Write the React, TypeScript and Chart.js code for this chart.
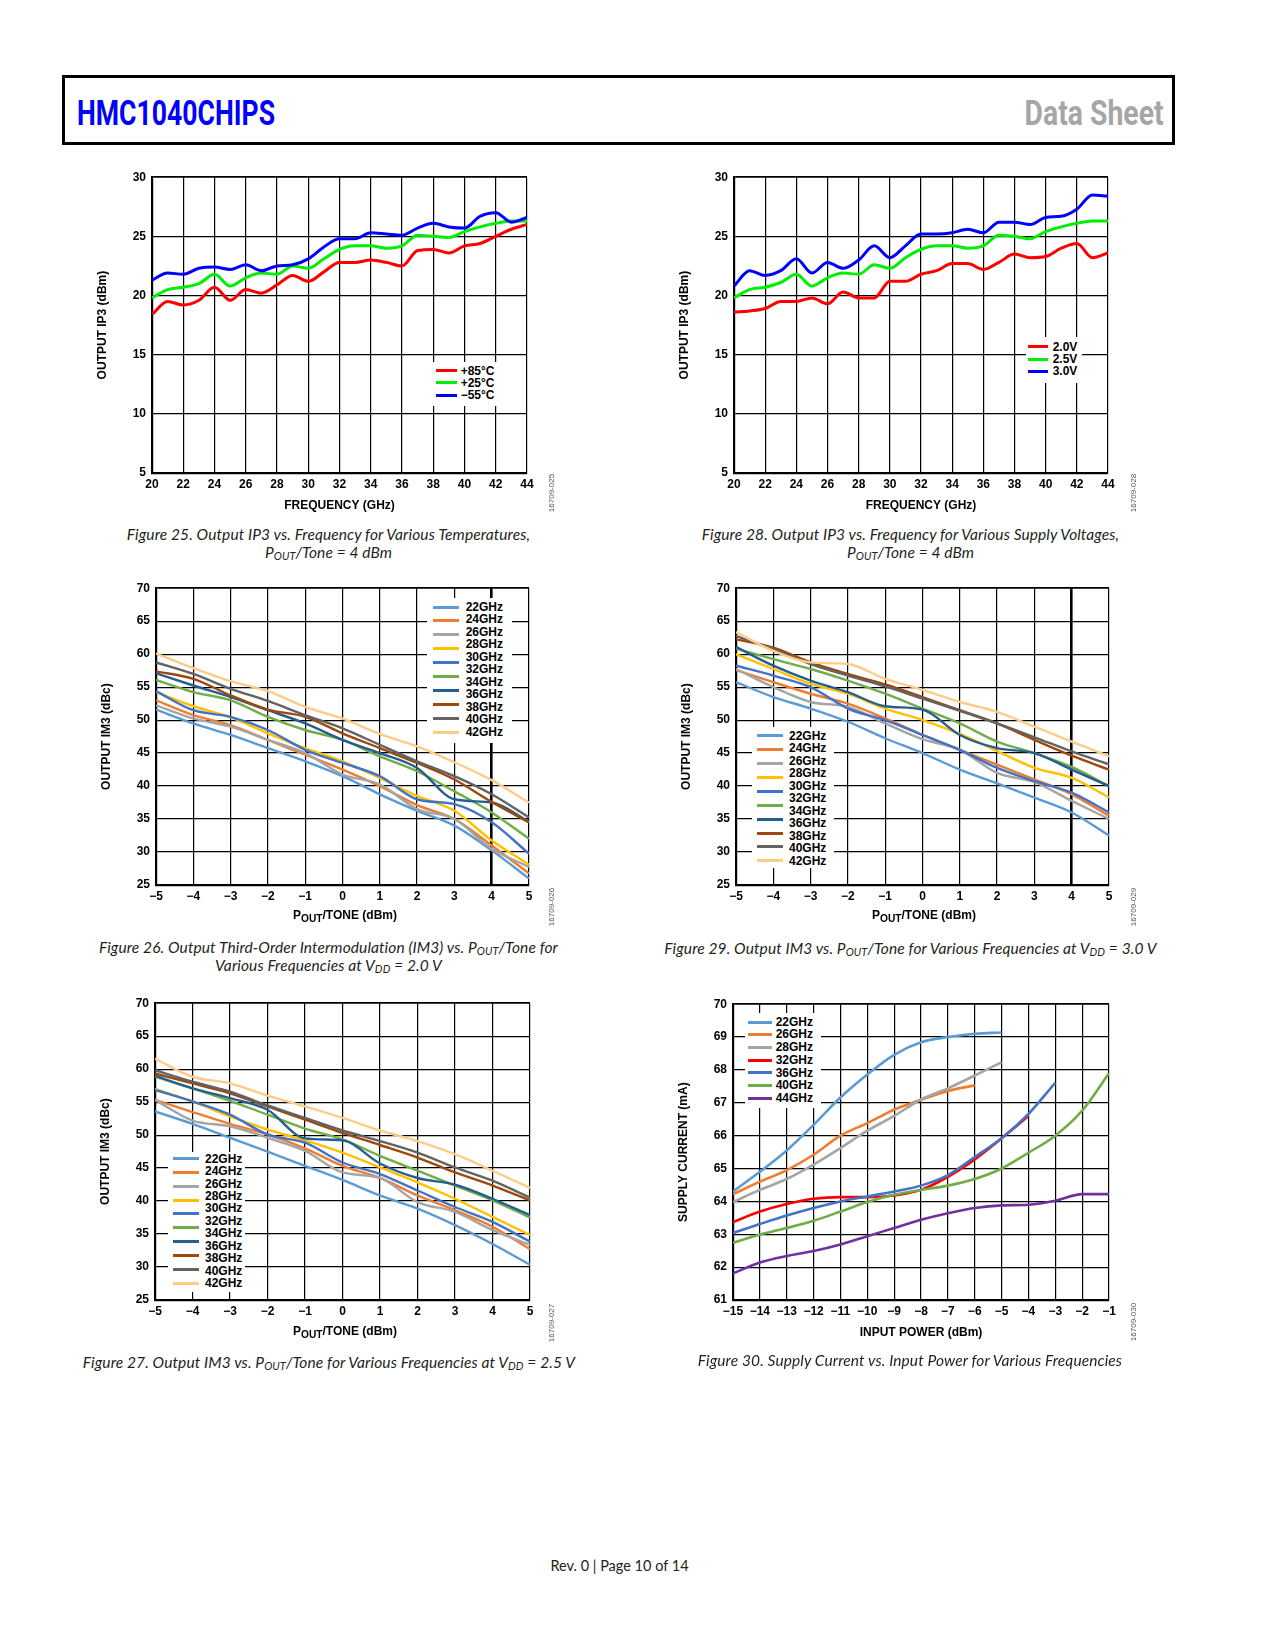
import React, { useEffect, useRef } from "react";
import { Chart, registerables } from "chart.js";

Chart.register(...registerables);

const FONT = "'Liberation Sans', Arial, Helvetica, sans-serif";
const CAPTION_FONT = "Lato, 'Open Sans', sans-serif";

// ---------------- Figure 25: Output IP3 vs frequency, temperatures ----------------
const freqGHz = [20, 21, 22, 23, 24, 25, 26, 27, 28, 29, 30, 31, 32, 33, 34, 35, 36, 37, 38, 39, 40, 41, 42, 43, 44];
const ip3Plus85C = [18.4, 19.5, 19.2, 19.6, 20.7, 19.6, 20.5, 20.2, 20.9, 21.7, 21.2, 22.0, 22.8, 22.8, 23.0, 22.8, 22.5, 23.8, 23.9, 23.6, 24.2, 24.4, 25.0, 25.6, 26.0];
const ip3Plus25C = [19.8, 20.5, 20.7, 21.0, 21.8, 20.8, 21.5, 21.9, 21.8, 22.5, 22.3, 23.1, 23.9, 24.2, 24.2, 24.0, 24.2, 25.1, 25.0, 24.9, 25.4, 25.8, 26.1, 26.3, 26.3];
const ip3Minus55C = [21.3, 21.9, 21.8, 22.3, 22.4, 22.2, 22.6, 22.1, 22.5, 22.6, 23.1, 24.1, 24.8, 24.8, 25.3, 25.2, 25.1, 25.7, 26.1, 25.8, 25.7, 26.7, 27.0, 26.2, 26.6];
const tempLabels = ["+85\u00b0C", "+25\u00b0C", "\u221255\u00b0C"];

// ---------------- Figure 28: Output IP3 vs frequency, supply voltages ----------------
const ip3Vdd20 = [18.6, 18.7, 18.9, 19.5, 19.5, 19.8, 19.3, 20.3, 19.8, 19.8, 21.2, 21.2, 21.8, 22.1, 22.7, 22.7, 22.2, 22.8, 23.5, 23.2, 23.3, 24.0, 24.4, 23.2, 23.6];
const ip3Vdd25 = [19.8, 20.5, 20.7, 21.1, 21.8, 20.8, 21.5, 21.9, 21.8, 22.6, 22.3, 23.2, 23.9, 24.2, 24.2, 24.0, 24.2, 25.1, 25.0, 24.8, 25.4, 25.8, 26.1, 26.3, 26.3];
const ip3Vdd30 = [20.8, 22.1, 21.7, 22.1, 23.1, 21.9, 22.8, 22.3, 23.0, 24.2, 23.2, 24.2, 25.2, 25.2, 25.3, 25.6, 25.3, 26.2, 26.2, 26.0, 26.6, 26.7, 27.3, 28.5, 28.4];
const vddLabels = ["2.0V", "2.5V", "3.0V"];

// ---------------- IM3 figures (26, 27, 29) ----------------
const poutTone = [-5, -4, -3, -2, -1, 0, 1, 2, 3, 4, 5];
const im3LegendLabels = ["22GHz", "24GHz", "26GHz", "28GHz", "30GHz", "32GHz", "34GHz", "36GHz", "38GHz", "40GHz", "42GHz"];
const im3PlottedFreqs = ["22GHz", "24GHz", "26GHz", "28GHz", "30GHz", "34GHz", "36GHz", "38GHz", "40GHz", "42GHz"];

// Figure 26: VDD = 2.0 V
const im3Vdd20_22 = [51.6, 49.5, 47.75, 45.75, 43.75, 41.5, 38.75, 36.25, 34.0, 30.25, 26.0];
const im3Vdd20_24 = [53.0, 50.75, 49.25, 47.0, 44.75, 42.5, 40.0, 37.1, 35.0, 31.0, 26.75];
const im3Vdd20_26 = [52.25, 50.25, 49.0, 47.0, 45.0, 41.75, 40.25, 36.5, 35.0, 30.5, 27.75];
const im3Vdd20_28 = [54.25, 52.1, 50.4, 48.0, 45.75, 43.75, 41.25, 38.5, 36.25, 31.75, 28.1];
const im3Vdd20_30 = [54.4, 51.5, 50.5, 48.5, 45.5, 43.5, 41.5, 38.0, 37.25, 34.5, 29.75];
const im3Vdd20_34 = [56.1, 54.25, 53.0, 50.5, 48.5, 47.0, 44.5, 42.25, 39.2, 36.0, 32.0];
const im3Vdd20_36 = [57.1, 55.25, 53.5, 51.5, 49.5, 47.0, 45.0, 42.75, 38.0, 37.5, 34.6];
const im3Vdd20_38 = [57.4, 56.25, 53.75, 51.6, 50.5, 48.0, 45.75, 43.5, 41.0, 37.6, 34.5];
const im3Vdd20_40 = [58.75, 57.0, 54.75, 52.9, 50.75, 48.75, 46.25, 43.75, 41.5, 38.75, 35.25];
const im3Vdd20_42 = [60.1, 57.9, 55.9, 54.4, 52.0, 50.25, 47.9, 46.0, 43.6, 40.9, 37.5];

// Figure 29: VDD = 3.0 V
const im3Vdd30_22 = [55.75, 53.5, 51.75, 49.75, 47.25, 45.0, 42.5, 40.4, 38.25, 36.0, 32.5];
const im3Vdd30_24 = [57.6, 55.75, 54.0, 52.5, 50.25, 47.75, 45.5, 43.25, 41.0, 38.75, 35.5];
const im3Vdd30_26 = [57.75, 55.0, 52.75, 52.0, 49.5, 47.1, 45.5, 42.0, 40.6, 37.75, 35.0];
const im3Vdd30_28 = [60.0, 57.75, 55.5, 54.0, 51.75, 50.0, 47.9, 45.3, 42.75, 41.25, 38.3];
const im3Vdd30_30 = [58.25, 56.75, 55.0, 51.75, 50.0, 47.75, 45.5, 42.75, 40.75, 39.0, 36.0];
const im3Vdd30_34 = [60.85, 59.25, 57.75, 56.0, 54.0, 51.75, 49.5, 46.75, 45.0, 42.9, 40.0];
const im3Vdd30_36 = [61.1, 58.25, 56.0, 54.25, 52.1, 51.6, 47.75, 45.75, 45.0, 42.5, 40.0];
const im3Vdd30_38 = [62.25, 61.0, 58.75, 57.0, 55.4, 53.5, 51.5, 49.5, 47.0, 44.6, 42.5];
const im3Vdd30_40 = [62.75, 60.75, 58.5, 56.75, 55.1, 53.25, 51.4, 49.5, 47.4, 45.25, 43.3];
const im3Vdd30_42 = [63.35, 60.5, 58.75, 58.5, 56.25, 54.6, 52.75, 51.25, 49.0, 46.75, 44.5];

// Figure 27: VDD = 2.5 V
const im3Vdd25_22 = [53.6, 51.7, 49.6, 47.5, 45.35, 43.2, 40.85, 38.85, 36.35, 33.5, 30.35];
const im3Vdd25_24 = [55.35, 53.5, 51.7, 50.1, 48.0, 45.35, 43.5, 40.85, 38.6, 36.1, 32.7];
const im3Vdd25_26 = [55.35, 52.2, 51.35, 49.6, 47.6, 44.35, 43.5, 39.85, 38.35, 35.6, 33.35];
const im3Vdd25_28 = [57.0, 55.1, 52.85, 50.85, 49.2, 47.35, 45.1, 42.85, 40.35, 37.6, 34.85];
const im3Vdd25_30 = [56.85, 55.1, 53.1, 50.1, 48.85, 45.85, 44.1, 41.6, 39.1, 36.85, 33.85];
const im3Vdd25_34 = [58.85, 57.1, 55.2, 53.1, 51.0, 49.35, 46.85, 44.6, 42.35, 40.1, 37.5];
const im3Vdd25_36 = [59.0, 57.1, 55.6, 53.85, 49.5, 49.2, 45.7, 43.5, 42.5, 40.35, 37.85];
const im3Vdd25_38 = [59.35, 57.85, 56.35, 54.35, 52.35, 50.35, 48.5, 46.6, 44.35, 42.35, 40.1];
const im3Vdd25_40 = [59.85, 58.1, 56.6, 54.5, 52.6, 50.7, 49.1, 47.35, 45.1, 43.1, 40.5];
const im3Vdd25_42 = [61.6, 58.85, 57.85, 56.0, 54.35, 52.6, 50.7, 49.1, 47.1, 44.6, 42.0];

// ---------------- Figure 30: Supply current vs input power ----------------
const inputPowerTo5 = [-15, -14, -13, -12, -11, -10, -9, -8, -7, -6, -5];
const inputPowerTo6 = [-15, -14, -13, -12, -11, -10, -9, -8, -7, -6];
const inputPowerTo4 = [-15, -14, -13, -12, -11, -10, -9, -8, -7, -6, -5, -4];
const inputPowerTo3 = [-15, -14, -13, -12, -11, -10, -9, -8, -7, -6, -5, -4, -3];
const inputPowerTo1 = [-15, -14, -13, -12, -11, -10, -9, -8, -7, -6, -5, -4, -3, -2, -1];
const supply22GHz = [64.3, 64.9, 65.55, 66.33, 67.16, 67.86, 68.46, 68.84, 69.0, 69.1, 69.14];
const supply26GHz = [64.22, 64.6, 64.95, 65.42, 66.0, 66.38, 66.79, 67.09, 67.36, 67.53];
const supply28GHz = [63.98, 64.35, 64.68, 65.12, 65.62, 66.15, 66.6, 67.1, 67.44, 67.83, 68.24];
const supply32GHz = [63.37, 63.69, 63.92, 64.08, 64.13, 64.13, 64.18, 64.35, 64.75, 65.28, 65.92, 66.6];
const supply36GHz = [63.04, 63.31, 63.57, 63.8, 64.0, 64.15, 64.3, 64.48, 64.8, 65.35, 65.92, 66.66, 67.61];
const supply40GHz = [62.74, 62.99, 63.19, 63.41, 63.69, 63.98, 64.2, 64.35, 64.48, 64.68, 65.0, 65.48, 66.0, 66.76, 67.9];
const supply44GHz = [61.81, 62.14, 62.34, 62.49, 62.69, 62.94, 63.19, 63.44, 63.64, 63.8, 63.88, 63.9, 64.02, 64.22, 64.22];
const supplyLabels = ["22GHz", "26GHz", "28GHz", "32GHz", "36GHz", "40GHz", "44GHz"];

// ---------------- styles ----------------
const IM3_COLORS: Record<string, string> = {
  "22GHz": "#5B9BD5",
  "24GHz": "#ED7D31",
  "26GHz": "#A5A5A5",
  "28GHz": "#FFC000",
  "30GHz": "#4472C4",
  "34GHz": "#70AD47",
  "36GHz": "#255E91",
  "38GHz": "#9E480E",
  "40GHz": "#636363",
  "42GHz": "#FFCC88",
};
const SUPPLY_COLORS = ["#5B9BD5", "#ED7D31", "#A5A5A5", "#FF0000", "#4472C4", "#70AD47", "#7030A0"];
const RGB = ["#FF0000", "#00EE00", "#0000FF"];

type SeriesDef = { label: string; xs: number[]; ys: number[]; color: string; width: number };
type Box = { l: number; t: number; r: number; b: number };

const PAD_L = 70;
const PAD_T = 10;
const PAD_R = 22;
const PAD_B = 50;

function fmtTick(v: number | string) {
  const n = Number(v);
  return n < 0 ? "\u2212" + Math.abs(n) : String(n);
}

function LineChart(props: {
  box: Box;
  xMin: number;
  xMax: number;
  xStep: number;
  yMin: number;
  yMax: number;
  yStep: number;
  series: SeriesDef[];
  yTitle: string;
  xTitle?: string;
  thickX?: number;
}) {
  const { box, xMin, xMax, xStep, yMin, yMax, yStep, series, yTitle, xTitle, thickX } = props;
  const ref = useRef<HTMLCanvasElement | null>(null);
  const W = box.r - box.l + PAD_L + PAD_R;
  const H = box.b - box.t + PAD_T + PAD_B;
  useEffect(() => {
    if (!ref.current) return;
    const font = { family: FONT, size: 12, weight: "bold" as const };
    const n = series.length;
    const chart = new Chart(ref.current, {
      type: "line",
      data: {
        datasets: series.map((s, i) => ({
          label: s.label,
          data: s.xs.map((x, k) => ({ x, y: s.ys[k] })),
          borderColor: s.color,
          backgroundColor: s.color,
          borderWidth: s.width,
          pointRadius: 0,
          pointHoverRadius: 0,
          fill: false,
          cubicInterpolationMode: "monotone" as const,
          order: n - i,
        })),
      },
      options: {
        animation: false,
        responsive: false,
        maintainAspectRatio: false,
        events: [],
        layout: { padding: { left: 0, top: PAD_T, right: PAD_R, bottom: 0 } },
        plugins: { legend: { display: false }, tooltip: { enabled: false }, title: { display: false } },
        scales: {
          x: {
            type: "linear",
            min: xMin,
            max: xMax,
            ticks: {
              stepSize: xStep,
              autoSkip: false,
              maxRotation: 0,
              minRotation: 0,
              padding: 4.5,
              color: "#000",
              font,
              callback: (v: any) => fmtTick(v),
            },
            grid: {
              color: "#000",
              drawTicks: false,
              lineWidth: (c: any) => (thickX !== undefined && c.tick && c.tick.value === thickX ? 2.6 : 1.2),
            },
            border: { display: true, color: "#000", width: 2.2 },
            title: {
              display: !!xTitle,
              text: xTitle || "",
              color: "#000",
              font,
              padding: { top: 0, bottom: 10.3 },
            },
            afterFit: (s: any) => {
              s.height = PAD_B;
            },
          },
          y: {
            type: "linear",
            min: yMin,
            max: yMax,
            ticks: {
              stepSize: yStep,
              autoSkip: false,
              padding: 6,
              color: "#000",
              font,
              callback: (v: any) => fmtTick(v),
            },
            grid: {
              color: "#000",
              drawTicks: false,
              lineWidth: (c: any) => (c.tick && c.tick.value === yMax ? 1.8 : 1.2),
            },
            border: { display: true, color: "#000", width: 2.2 },
            title: {
              display: true,
              text: yTitle,
              color: "#000",
              font,
              padding: { top: 13.3, bottom: 0 },
            },
            afterFit: (s: any) => {
              s.width = PAD_L;
            },
          },
        },
      },
    });
    return () => chart.destroy();
  }, []);
  return (
    <canvas
      ref={ref}
      width={W}
      height={H}
      style={{ position: "absolute", left: box.l - PAD_L, top: box.t - PAD_T, width: W, height: H }}
    />
  );
}

type LegendCfg = {
  boxL: number;
  boxT: number;
  boxR: number;
  boxB: number;
  lineX1: number;
  lineX2: number;
  labelX: number;
  labelY0: number;
  labelDy: number;
  lineY0: number;
  lineDy: number;
  lineW: number;
};

function Legend({ cfg, labels, colors }: { cfg: LegendCfg; labels: string[]; colors: string[] }) {
  return (
    <>
      <div
        style={{
          position: "absolute",
          left: cfg.boxL,
          top: cfg.boxT,
          width: cfg.boxR - cfg.boxL,
          height: cfg.boxB - cfg.boxT,
          background: "#fff",
        }}
      />
      {colors.map((c, i) => (
        <div
          key={"l" + i}
          style={{
            position: "absolute",
            left: cfg.lineX1,
            width: cfg.lineX2 - cfg.lineX1,
            top: cfg.lineY0 + i * cfg.lineDy - cfg.lineW / 2,
            height: cfg.lineW,
            background: c,
          }}
        />
      ))}
      {labels.map((t, i) => (
        <div
          key={"t" + i}
          style={{
            position: "absolute",
            left: cfg.labelX,
            top: cfg.labelY0 + i * cfg.labelDy - 7,
            height: 14,
            lineHeight: "14px",
            font: `bold 12px ${FONT}`,
            color: "#000",
            whiteSpace: "nowrap",
          }}
        >
          {t}
        </div>
      ))}
    </>
  );
}

const Sub = ({ children, size = "0.7em", shift = "-0.22em" }: { children: React.ReactNode; size?: string; shift?: string }) => (
  <span style={{ fontSize: size, verticalAlign: shift, lineHeight: 0 }}>{children}</span>
);

function Caption({ cx, y, lines }: { cx: number; y: number; lines: React.ReactNode[] }) {
  return (
    <div
      style={{
        position: "absolute",
        left: cx - 330,
        width: 660,
        top: y - 9.5,
        textAlign: "center",
        fontFamily: CAPTION_FONT,
        fontStyle: "italic",
        fontSize: 15.5,
        letterSpacing: "0.1px",
        lineHeight: "18.5px",
        color: "#231f20",
        whiteSpace: "nowrap",
      }}
    >
      {lines.map((ln, i) => (
        <div key={i}>{ln}</div>
      ))}
    </div>
  );
}

function PoutTitle({ cx, cy }: { cx: number; cy: number }) {
  return (
    <div
      style={{
        position: "absolute",
        left: cx - 100,
        width: 200,
        top: cy - 8,
        height: 16,
        lineHeight: "16px",
        textAlign: "center",
        font: `bold 12px ${FONT}`,
        color: "#000",
        whiteSpace: "nowrap",
      }}
    >
      P<Sub size="0.85em" shift="-0.3em">OUT</Sub>/TONE (dBm)
    </div>
  );
}

function CodeLabel({ cx, cy, text }: { cx: number; cy: number; text: string }) {
  return (
    <div
      style={{
        position: "absolute",
        left: cx - 30,
        top: cy - 5,
        width: 60,
        height: 10,
        lineHeight: "10px",
        textAlign: "center",
        font: `8px ${FONT}`,
        color: "#555",
        transform: "rotate(-90deg)",
        whiteSpace: "nowrap",
      }}
    >
      {text}
    </div>
  );
}

const box25: Box = { l: 152, t: 174, r: 527, b: 473 };
const box28: Box = { l: 734, t: 174, r: 1108, b: 473 };
const box26: Box = { l: 156, t: 585, r: 529, b: 885 };
const box29: Box = { l: 736, t: 585, r: 1109, b: 885 };
const box27: Box = { l: 155, t: 1000, r: 530, b: 1300 };
const box30: Box = { l: 733, t: 1001, r: 1109, b: 1300 };

function im3Series(values: number[][]): SeriesDef[] {
  return im3PlottedFreqs.map((f, i) => ({ label: f, xs: poutTone, ys: values[i], color: IM3_COLORS[f], width: 2.4 }));
}

export default function App() {
  const s25: SeriesDef[] = [
    { label: tempLabels[0], xs: freqGHz, ys: ip3Plus85C, color: RGB[0], width: 3 },
    { label: tempLabels[1], xs: freqGHz, ys: ip3Plus25C, color: RGB[1], width: 3 },
    { label: tempLabels[2], xs: freqGHz, ys: ip3Minus55C, color: RGB[2], width: 3 },
  ];
  const s28: SeriesDef[] = [
    { label: vddLabels[0], xs: freqGHz, ys: ip3Vdd20, color: RGB[0], width: 3 },
    { label: vddLabels[1], xs: freqGHz, ys: ip3Vdd25, color: RGB[1], width: 3 },
    { label: vddLabels[2], xs: freqGHz, ys: ip3Vdd30, color: RGB[2], width: 3 },
  ];
  const s26 = im3Series([im3Vdd20_22, im3Vdd20_24, im3Vdd20_26, im3Vdd20_28, im3Vdd20_30, im3Vdd20_34, im3Vdd20_36, im3Vdd20_38, im3Vdd20_40, im3Vdd20_42]);
  const s29 = im3Series([im3Vdd30_22, im3Vdd30_24, im3Vdd30_26, im3Vdd30_28, im3Vdd30_30, im3Vdd30_34, im3Vdd30_36, im3Vdd30_38, im3Vdd30_40, im3Vdd30_42]);
  const s27 = im3Series([im3Vdd25_22, im3Vdd25_24, im3Vdd25_26, im3Vdd25_28, im3Vdd25_30, im3Vdd25_34, im3Vdd25_36, im3Vdd25_38, im3Vdd25_40, im3Vdd25_42]);
  const supplyXs = [inputPowerTo5, inputPowerTo6, inputPowerTo5, inputPowerTo4, inputPowerTo3, inputPowerTo1, inputPowerTo1];
  const supplyYs = [supply22GHz, supply26GHz, supply28GHz, supply32GHz, supply36GHz, supply40GHz, supply44GHz];
  const s30: SeriesDef[] = supplyLabels.map((l, i) => ({ label: l, xs: supplyXs[i], ys: supplyYs[i], color: SUPPLY_COLORS[i], width: 2.6 }));

  const im3LineColors = im3PlottedFreqs.map((f) => IM3_COLORS[f]);

  return (
    <div
      style={{
        position: "absolute",
        left: 0,
        top: 0,
        width: 1275,
        height: 1650,
        background: "#fff",
        overflow: "hidden",
      }}
    >
      {/* Header */}
      <div
        style={{
          position: "absolute",
          left: 62,
          top: 75,
          width: 1113,
          height: 70,
          border: "3px solid #000",
          boxSizing: "border-box",
        }}
      />
      <div
        style={{
          position: "absolute",
          left: 77,
          top: 93,
          height: 35,
          lineHeight: "35px",
          font: "bold 35px Roboto, sans-serif",
          color: "#0000FF",
          transform: "scaleX(0.76)",
          transformOrigin: "left center",
          whiteSpace: "nowrap",
        }}
      >
        HMC1040CHIPS
      </div>
      <div
        style={{
          position: "absolute",
          right: 1275 - 1164,
          top: 93,
          height: 35,
          lineHeight: "35px",
          font: "bold 35px Roboto, sans-serif",
          color: "#A6A6A6",
          transform: "scaleX(0.81)",
          transformOrigin: "right center",
          whiteSpace: "nowrap",
        }}
      >
        Data Sheet
      </div>

      {/* Figure 25 */}
      <LineChart box={box25} xMin={20} xMax={44} xStep={2} yMin={5} yMax={30} yStep={5} series={s25} yTitle="OUTPUT IP3 (dBm)" xTitle="FREQUENCY (GHz)" />
      <Legend
        cfg={{ boxL: 433, boxT: 362, boxR: 497, boxB: 406, lineX1: 436, lineX2: 457, labelX: 460.7, labelY0: 370.7, labelDy: 12.15, lineY0: 370.7, lineDy: 12.15, lineW: 3 }}
        labels={tempLabels}
        colors={RGB}
      />
      <CodeLabel cx={552} cy={493} text="16709-025" />
      <Caption
        cx={328.5}
        y={534}
        lines={[
          "Figure 25. Output IP3 vs. Frequency for Various Temperatures,",
          <>
            P<Sub>OUT</Sub>/Tone = 4 dBm
          </>,
        ]}
      />

      {/* Figure 28 */}
      <LineChart box={box28} xMin={20} xMax={44} xStep={2} yMin={5} yMax={30} yStep={5} series={s28} yTitle="OUTPUT IP3 (dBm)" xTitle="FREQUENCY (GHz)" />
      <Legend
        cfg={{ boxL: 1026, boxT: 337, boxR: 1082, boxB: 383, lineX1: 1028, lineX2: 1048, labelX: 1052.7, labelY0: 346.7, labelDy: 12.3, lineY0: 346.7, lineDy: 12.3, lineW: 3 }}
        labels={vddLabels}
        colors={RGB}
      />
      <CodeLabel cx={1134} cy={493} text="16709-028" />
      <Caption
        cx={910.5}
        y={534}
        lines={[
          "Figure 28. Output IP3 vs. Frequency for Various Supply Voltages,",
          <>
            P<Sub>OUT</Sub>/Tone = 4 dBm
          </>,
        ]}
      />

      {/* Figure 26 */}
      <LineChart box={box26} xMin={-5} xMax={5} xStep={1} yMin={25} yMax={70} yStep={5} series={s26} yTitle="OUTPUT IM3 (dBc)" thickX={4} />
      <Legend
        cfg={{ boxL: 427, boxT: 598, boxR: 512, boxB: 743, lineX1: 432.7, lineX2: 459.3, labelX: 465.7, labelY0: 606.7, labelDy: 12.5, lineY0: 607, lineDy: 13.92, lineW: 3 }}
        labels={im3LegendLabels}
        colors={im3LineColors}
      />
      <PoutTitle cx={345} cy={916} />
      <CodeLabel cx={552} cy={907} text="16709-026" />
      <Caption
        cx={328.5}
        y={947}
        lines={[
          <>
            Figure 26. Output Third-Order Intermodulation (IM3) vs. P<Sub>OUT</Sub>/Tone for
          </>,
          <>
            Various Frequencies at V<Sub>DD</Sub> = 2.0 V
          </>,
        ]}
      />

      {/* Figure 29 */}
      <LineChart box={box29} xMin={-5} xMax={5} xStep={1} yMin={25} yMax={70} yStep={5} series={s29} yTitle="OUTPUT IM3 (dBc)" thickX={4} />
      <Legend
        cfg={{ boxL: 752, boxT: 727, boxR: 834, boxB: 868, lineX1: 756.7, lineX2: 783.3, labelX: 789, labelY0: 735.7, labelDy: 12.5, lineY0: 735.7, lineDy: 13.9, lineW: 3 }}
        labels={im3LegendLabels}
        colors={im3LineColors}
      />
      <PoutTitle cx={924} cy={916} />
      <CodeLabel cx={1134} cy={907} text="16709-029" />
      <Caption
        cx={910.5}
        y={948}
        lines={[
          <>
            Figure 29. Output IM3 vs. P<Sub>OUT</Sub>/Tone for Various Frequencies at V<Sub>DD</Sub> = 3.0 V
          </>,
        ]}
      />

      {/* Figure 27 */}
      <LineChart box={box27} xMin={-5} xMax={5} xStep={1} yMin={25} yMax={70} yStep={5} series={s27} yTitle="OUTPUT IM3 (dBc)" />
      <Legend
        cfg={{ boxL: 168, boxT: 1152, boxR: 245, boxB: 1292, lineX1: 172.7, lineX2: 199.3, labelX: 205, labelY0: 1158.7, labelDy: 12.44, lineY0: 1158.7, lineDy: 13.82, lineW: 3 }}
        labels={im3LegendLabels}
        colors={im3LineColors}
      />
      <PoutTitle cx={345} cy={1331.5} />
      <CodeLabel cx={552} cy={1323} text="16709-027" />
      <Caption
        cx={329}
        y={1362.5}
        lines={[
          <>
            Figure 27. Output IM3 vs. P<Sub>OUT</Sub>/Tone for Various Frequencies at V<Sub>DD</Sub> = 2.5 V
          </>,
        ]}
      />

      {/* Figure 30 */}
      <LineChart box={box30} xMin={-15} xMax={-1} xStep={1} yMin={61} yMax={70} yStep={1} series={s30} yTitle="SUPPLY CURRENT (mA)" xTitle="INPUT POWER (dBm)" />
      <Legend
        cfg={{ boxL: 745, boxT: 1013, boxR: 821, boxB: 1108, lineX1: 748.3, lineX2: 771.7, labelX: 775.7, labelY0: 1021.7, labelDy: 12.7, lineY0: 1022, lineDy: 12.7, lineW: 3 }}
        labels={supplyLabels}
        colors={SUPPLY_COLORS}
      />
      <CodeLabel cx={1134} cy={1322} text="16709-030" />
      <Caption cx={910} y={1360.5} lines={["Figure 30. Supply Current vs. Input Power for Various Frequencies"]} />

      {/* Footer */}
      <div
        style={{
          position: "absolute",
          left: 619.5 - 150,
          width: 300,
          top: 1566 - 9,
          lineHeight: "18px",
          textAlign: "center",
          fontFamily: CAPTION_FONT,
          fontSize: 14.5,
          color: "#231f20",
        }}
      >
        Rev. 0 | Page 10 of 14
      </div>
    </div>
  );
}
